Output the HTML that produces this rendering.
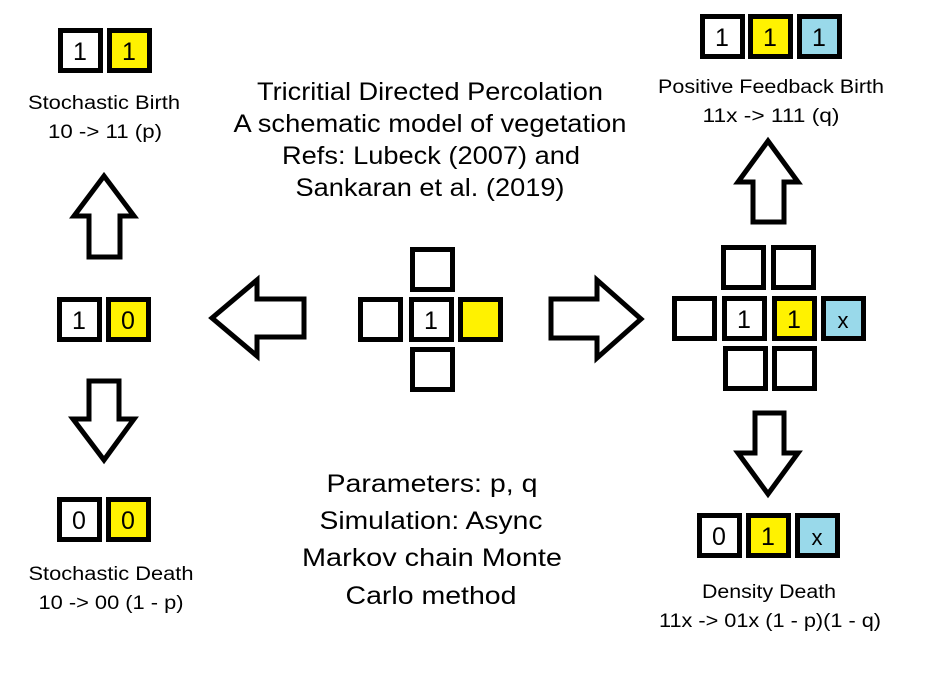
<!DOCTYPE html>
<html><head><meta charset="utf-8"><style>
html,body{margin:0;padding:0;background:#fff;}
svg{display:block;}
text{font-family:"Liberation Sans",sans-serif;fill:#000;}
.b{stroke:#000;stroke-width:5;}
.w{fill:#fff}.y{fill:#fff200}.c{fill:#99d9ea}
.t{font-size:19px;text-anchor:middle;}
.n{font-size:25px;text-anchor:middle;}
.h{font-size:25px;text-anchor:middle;}
.a{fill:#fff;stroke:#000;stroke-width:5;stroke-linejoin:miter;}
</style></head><body>
<svg width="926" height="674" viewBox="0 0 926 674">
<!-- left top -->
<rect class="b w" x="60.5" y="30.5" width="40" height="40"/><text class="n" x="80" y="60">1</text>
<rect class="b y" x="109.5" y="30.5" width="40" height="40"/><text class="n" x="129" y="60">1</text>
<text class="t" x="104" y="109" textLength="152" lengthAdjust="spacingAndGlyphs">Stochastic Birth</text>
<text class="t" x="105" y="138" textLength="114" lengthAdjust="spacingAndGlyphs">10 -&gt; 11 (p)</text>
<polygon class="a" points="104,176 134,216 120,216 120,257 89,257 89,216 74,216"/>
<!-- left middle -->
<rect class="b w" x="59.5" y="299.5" width="40" height="40"/><text class="n" x="79" y="329">1</text>
<rect class="b y" x="108.5" y="299.5" width="40" height="40"/><text class="n" x="128" y="329">0</text>
<polygon class="a" points="89,381 119,381 119,419 134,419 104,460 73,419 89,419"/>
<!-- left bottom -->
<rect class="b w" x="59.5" y="499.5" width="40" height="40"/><text class="n" x="79" y="529">0</text>
<rect class="b y" x="108.5" y="499.5" width="40" height="40"/><text class="n" x="128" y="529">0</text>
<text class="t" x="111" y="580" textLength="165" lengthAdjust="spacingAndGlyphs">Stochastic Death</text>
<text class="t" x="111" y="609" textLength="145" lengthAdjust="spacingAndGlyphs">10 -&gt; 00 (1 - p)</text>
<!-- title -->
<text class="h" x="430" y="100" textLength="346" lengthAdjust="spacingAndGlyphs">Tricritial Directed Percolation</text>
<text class="h" x="430" y="132" textLength="393" lengthAdjust="spacingAndGlyphs">A schematic model of vegetation</text>
<text class="h" x="431" y="164" textLength="298" lengthAdjust="spacingAndGlyphs">Refs: Lubeck (2007) and</text>
<text class="h" x="430" y="196" textLength="269" lengthAdjust="spacingAndGlyphs">Sankaran et al. (2019)</text>
<!-- center cross -->
<rect class="b w" x="412.5" y="249.5" width="40" height="40"/>
<rect class="b w" x="360.5" y="299.5" width="40" height="40"/>
<rect class="b w" x="411.5" y="299.5" width="40" height="40"/><text class="n" x="431" y="329">1</text>
<rect class="b y" x="460.5" y="299.5" width="40" height="40"/>
<rect class="b w" x="412.5" y="349.5" width="40" height="40"/>
<polygon class="a" points="212,318 257,280 257,299 304,299 304,337 257,337 257,356"/>
<polygon class="a" points="551,299 597,299 597,280 641,319 597,358 597,338 551,338"/>
<!-- params -->
<text class="h" x="432" y="492" textLength="211" lengthAdjust="spacingAndGlyphs">Parameters: p, q</text>
<text class="h" x="431" y="529" textLength="223" lengthAdjust="spacingAndGlyphs">Simulation: Async</text>
<text class="h" x="432" y="566" textLength="260" lengthAdjust="spacingAndGlyphs">Markov chain Monte</text>
<text class="h" x="431" y="604" textLength="171" lengthAdjust="spacingAndGlyphs">Carlo method</text>
<!-- right top -->
<rect class="b w" x="702.5" y="16.5" width="40" height="40"/><text class="n" x="722" y="46">1</text>
<rect class="b y" x="750.5" y="16.5" width="40" height="40"/><text class="n" x="770" y="46">1</text>
<rect class="b c" x="799.5" y="16.5" width="40" height="40"/><text class="n" x="819" y="46">1</text>
<text class="t" x="771" y="93" textLength="226" lengthAdjust="spacingAndGlyphs">Positive Feedback Birth</text>
<text class="t" x="771" y="122" textLength="137" lengthAdjust="spacingAndGlyphs">11x -&gt; 111 (q)</text>
<polygon class="a" points="768,141 798,182 784,182 784,222 753,222 753,182 738,182"/>
<!-- right grid -->
<rect class="b w" x="723.5" y="247.5" width="40" height="40"/>
<rect class="b w" x="773.5" y="247.5" width="40" height="40"/>
<rect class="b w" x="674.5" y="298.5" width="40" height="40"/>
<rect class="b w" x="724.5" y="298.5" width="40" height="40"/><text class="n" x="744" y="328">1</text>
<rect class="b y" x="774.5" y="298.5" width="40" height="40"/><text class="n" x="794" y="328">1</text>
<rect class="b c" x="823.5" y="298.5" width="40" height="40"/><text class="n" x="843" y="328" style="font-size:22px">x</text>
<rect class="b w" x="725.5" y="348.5" width="40" height="40"/>
<rect class="b w" x="774.5" y="348.5" width="40" height="40"/>
<polygon class="a" points="755,413 784,413 784,453 798,453 768,494 738,453 755,453"/>
<!-- right bottom -->
<rect class="b w" x="699.5" y="515.5" width="40" height="40"/><text class="n" x="719" y="545">0</text>
<rect class="b y" x="748.5" y="515.5" width="40" height="40"/><text class="n" x="768" y="545">1</text>
<rect class="b c" x="797.5" y="515.5" width="40" height="40"/><text class="n" x="817" y="545" style="font-size:22px">x</text>
<text class="t" x="769" y="598" textLength="134" lengthAdjust="spacingAndGlyphs">Density Death</text>
<text class="t" x="770" y="627" textLength="222" lengthAdjust="spacingAndGlyphs">11x -&gt; 01x (1 - p)(1 - q)</text>
</svg>
</body></html>
